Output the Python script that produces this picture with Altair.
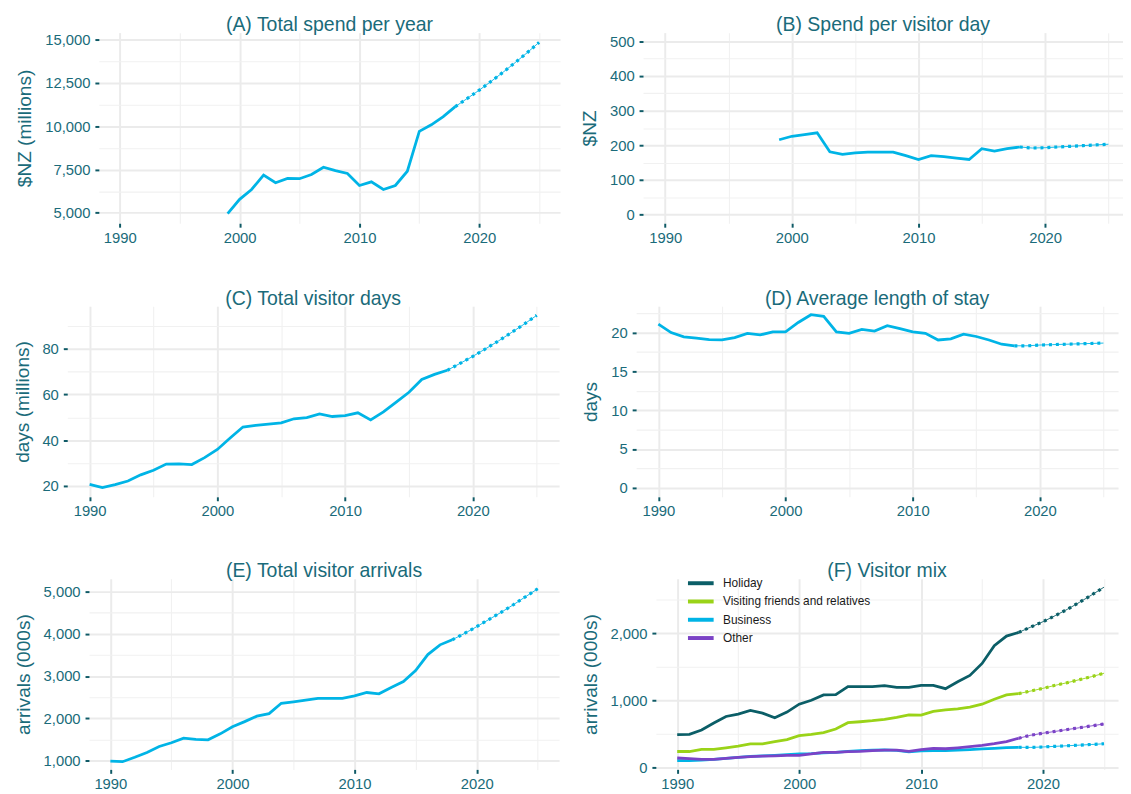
import altair as alt
import pandas as pd

TEAL = "#1a6b7a"
TICK = "#0f5a66"
LINE = "#00b4e6"
FONT = "Liberation Sans"

# ---------------- data ----------------
years_99 = list(range(1999, 2019))
years_90 = list(range(1990, 2019))
fc_years = list(range(2018, 2026))

spend_total = [4950, 5780, 6350, 7180, 6740, 6990, 6970, 7210, 7630, 7440,
               7270, 6580, 6790, 6350, 6580, 7400, 9700, 10080, 10550, 11130]
spend_total_fc = [11130, 11600, 12080, 12590, 13120, 13670, 14240, 14840]

spend_day = [216, 226, 231, 236, 181, 174, 178, 180, 180, 180,
             170, 159, 170, 167, 163, 159, 190, 183, 190, 195]
spend_day_fc = [195, 192, 193, 195, 197, 199, 201, 203]

visitor_days = [20.7, 19.3, 20.6, 22.2, 24.9, 26.9, 29.6, 29.7, 29.4, 32.4,
                36.0, 41.0, 45.8, 46.5, 47.1, 47.6, 49.4, 49.9, 51.5, 50.4,
                50.8, 52.0, 48.9, 52.4, 56.7, 61.0, 66.6, 68.8, 70.6]
visitor_days_fc = [70.6, 73.6, 76.7, 80.0, 83.4, 87.0, 90.7, 94.6]

stay = [21.1, 20.0, 19.45, 19.3, 19.1, 19.05, 19.35, 19.9, 19.7, 20.1,
        20.1, 21.3, 22.3, 22.1, 20.1, 19.9, 20.4, 20.2, 20.9, 20.5,
        20.1, 19.9, 19.05, 19.2, 19.8, 19.5, 19.05, 18.5, 18.3]
stay_fc = [18.3, 18.3, 18.4, 18.45, 18.5, 18.55, 18.6, 18.65]

arrivals = [985, 970, 1075, 1190, 1330, 1420, 1530, 1500, 1490, 1630,
            1800, 1920, 2050, 2110, 2355, 2390, 2430, 2470, 2470, 2470,
            2530, 2610, 2580, 2730, 2870, 3130, 3510, 3740, 3860]
arrivals_fc = [3860, 4010, 4170, 4340, 4510, 4690, 4880, 5070]

series_names = ["Holiday", "Visiting friends and relatives", "Business", "Other"]
series_colors = ["#0b5e67", "#9ad318", "#00b4e6", "#7b43c6"]
holiday = [489, 494, 558, 662, 760, 795, 849, 810, 741, 825,
           943, 1002, 1081, 1086, 1205, 1205, 1205, 1220, 1195, 1195,
           1225, 1225, 1175, 1279, 1373, 1551, 1817, 1960, 2015]
holiday_fc = [2015, 2095, 2175, 2265, 2360, 2465, 2575, 2690]
vfr = [237, 237, 267, 267, 291, 316, 351, 351, 385, 415,
       474, 494, 519, 573, 667, 681, 696, 716, 746, 785,
       780, 835, 859, 874, 899, 943, 1017, 1081, 1101]
vfr_fc = [1101, 1140, 1180, 1225, 1265, 1310, 1355, 1405]
business = [100, 100, 110, 118, 135, 150, 165, 170, 178, 190,
            200, 205, 215, 225, 240, 250, 258, 262, 255, 230,
            245, 250, 250, 258, 265, 275, 285, 295, 300]
business_fc = [300, 298, 305, 314, 323, 332, 342, 352]
other = [140, 130, 120, 118, 135, 148, 160, 168, 172, 180,
         180, 200, 225, 225, 235, 240, 250, 258, 258, 240,
         265, 285, 278, 292, 310, 330, 355, 385, 435]
other_fc = [435, 480, 510, 537, 565, 592, 620, 648]

X_TICKS = [1990, 1995, 2000, 2005, 2010, 2015, 2020, 2025]

PLOT_H = 193
SOLID_W = 2.8
DASH_W = 3.2
DASH = [3, 4]
LEGEND_Y = -4


def df_of(years, vals):
    return pd.DataFrame({"year": years, "value": vals})


def cond(test, a, b):
    return {"condition": {"test": test, "value": a}, "value": b}


def x_axis():
    t = "datum.value % 10 === 0"
    return alt.Axis(values=X_TICKS, format="d", labelExpr=f"{t} ? datum.label : ''",
                    tickOpacity=cond(t, 1, 0), gridWidth=cond(t, 2, 1.1),
                    gridColor=cond(t, "#ebebeb", "#f1f1f1"),
                    labelFlush=False, labelOverlap=False, labelPadding=3, title=None)


def y_axis(vals, major, fmt, title):
    t = f"datum.value % {major} === 0"
    return alt.Axis(values=vals, format=fmt, labelExpr=f"{t} ? datum.label : ''",
                    tickOpacity=cond(t, 1, 0), gridWidth=cond(t, 2, 1.1),
                    gridColor=cond(t, "#ebebeb", "#f1f1f1"),
                    labelOverlap=False, labelPadding=5, title=title)


def ptitle(text, offset=-2):
    return alt.TitleParams(text, fontSize=19.7, font=FONT, color=TEAL,
                           fontWeight="normal", anchor="middle", offset=offset)


def panel(act, fc, title, ytitle, xdom, ydom, yvals, major, fmt, width):
    x = alt.X("year:Q", scale=alt.Scale(domain=xdom, nice=False, zero=False), axis=x_axis())
    y = alt.Y("value:Q", scale=alt.Scale(domain=ydom, nice=False, zero=False),
              axis=y_axis(yvals, major, fmt, ytitle))
    l1 = alt.Chart(act).mark_line(color=LINE, strokeWidth=SOLID_W).encode(x=x, y=y)
    l2 = alt.Chart(fc).mark_line(color=LINE, strokeWidth=0.9).encode(x=x, y=y)
    l3 = alt.Chart(fc).mark_line(color=LINE, strokeWidth=DASH_W, strokeDash=DASH).encode(x=x, y=y)
    return alt.layer(l1, l2, l3).properties(width=width, height=PLOT_H, title=ptitle(title))


def spacer(w):
    return alt.Chart(pd.DataFrame({"v": [0]})).mark_rect(opacity=0).encode(
        x=alt.value(0), x2=alt.value(w), y=alt.value(0), y2=alt.value(1)
    ).properties(width=w, height=1)


XL = [1988.25, 2026.75]
XR = [1988.25, 2026.15]

pA = panel(df_of(years_99, spend_total), df_of(fc_years, spend_total_fc),
           "(A) Total spend per year", "$NZ (millions)", XL, [4400, 15400],
           list(range(5000, 15001, 1250)), 2500, ",d", 467)
pB = panel(df_of(years_99, spend_day), df_of(fc_years, spend_day_fc),
           "(B) Spend per visitor day", "$NZ", XR, [-25, 525],
           list(range(0, 501, 50)), 100, "d", 486)
pC = panel(df_of(years_90, visitor_days), df_of(fc_years, visitor_days_fc),
           "(C) Total visitor days", "days (millions)", XL, [15.3, 98.6],
           list(range(20, 91, 10)), 20, "d", 498)
pD = panel(df_of(years_90, stay), df_of(fc_years, stay_fc),
           "(D) Average length of stay", "days", XR, [-1.15, 23.4],
           [0, 2.5, 5, 7.5, 10, 12.5, 15, 17.5, 20, 22.5], 5, "d", 488)
pE = panel(df_of(years_90, arrivals), df_of(fc_years, arrivals_fc),
           "(E) Total visitor arrivals", "arrivals (000s)", XL, [788, 5306],
           list(range(1000, 5001, 500)), 1000, ",d", 476)

# panel F: visitor mix
act_rows, fc_rows = [], []
for name, a, f in zip(series_names, [holiday, vfr, business, other],
                      [holiday_fc, vfr_fc, business_fc, other_fc]):
    for yr, v in zip(years_90, a):
        act_rows.append({"year": yr, "value": v, "series": name})
    for yr, v in zip(fc_years, f):
        fc_rows.append({"year": yr, "value": v, "series": name})
actF = pd.DataFrame(act_rows)
fcF = pd.DataFrame(fc_rows)

xF = alt.X("year:Q", scale=alt.Scale(domain=XR, nice=False, zero=False), axis=x_axis())
yF = alt.Y("value:Q", scale=alt.Scale(domain=[-30, 2815], nice=False, zero=False),
           axis=y_axis(list(range(0, 2501, 500)), 1000, ",d", "arrivals (000s)"))
cscale = alt.Scale(domain=series_names, range=series_colors)
f1 = alt.Chart(actF).mark_line(strokeWidth=SOLID_W).encode(
    x=xF, y=yF,
    color=alt.Color("series:N", scale=cscale, sort=series_names,
                    legend=alt.Legend(title=None, orient="none", legendX=37, legendY=LEGEND_Y,
                                      symbolType="M-2,0H2", symbolStrokeWidth=4,
                                      symbolSize=169, symbolFillColor="transparent",
                                      labelFontSize=12, labelFont=FONT,
                                      labelColor="#1a1a1a", rowPadding=1.5, labelOffset=14,
                                      values=series_names)))
f2 = alt.Chart(fcF).mark_line(strokeWidth=0.9).encode(
    x=xF, y=yF, color=alt.Color("series:N", scale=cscale, legend=None))
f3 = alt.Chart(fcF).mark_line(strokeWidth=DASH_W, strokeDash=DASH).encode(
    x=xF, y=yF, color=alt.Color("series:N", scale=cscale, legend=None))
pF = alt.layer(f1, f2, f3).properties(
    width=468, height=PLOT_H, title=ptitle("(F) Visitor mix", offset=-2 + LEGEND_Y))


def row(wl, left, wm, right):
    return alt.hconcat(spacer(wl), left, spacer(wm), right, spacing=0).resolve_scale(
        color="independent").resolve_legend(color="independent")


row1 = row(8, pA, 20, pB)
row2 = row(5, pC, 23, pD)
row3 = row(6, pE, 22, pF)

lower = alt.vconcat(row2, row3, spacing=43).resolve_scale(
    color="independent").resolve_legend(color="independent")

chart = alt.vconcat(row1, lower, spacing=44).resolve_scale(
    color="independent").resolve_legend(color="independent").properties(
    padding={"left": 0, "top": 2, "right": 0, "bottom": 0}
).configure_view(stroke=None).configure_axis(
    domain=False, labelFont=FONT, titleFont=FONT, labelFontSize=15, titleFontSize=19.3,
    labelColor=TEAL, titleColor=TEAL, tickColor=TICK, tickSize=4, tickWidth=2,
    titlePadding=10, titleFontWeight="normal"
)

chart.save("out.html", embed_options={"renderer": "svg", "actions": False})
